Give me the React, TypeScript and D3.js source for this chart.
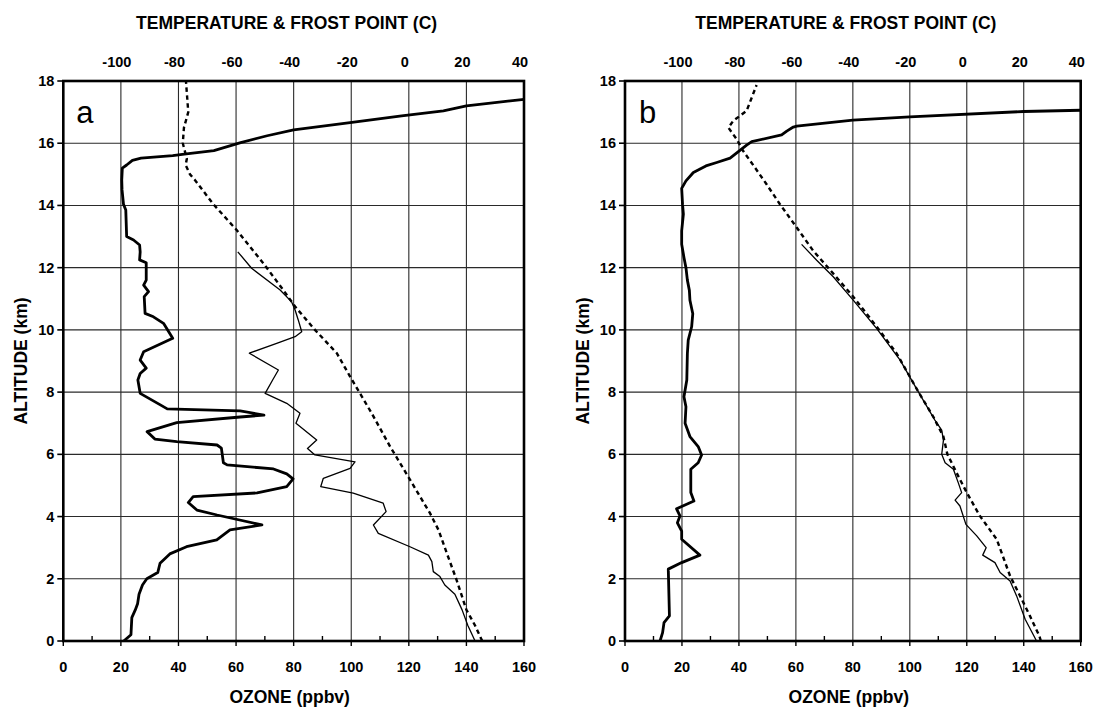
import React from "react";
import * as d3 from "d3";

// ---------- DATA (altitude km, value) ----------
const altTicks = [0, 2, 4, 6, 8, 10, 12, 14, 16, 18];
const ozoneTicks = [0, 20, 40, 60, 80, 100, 120, 140, 160];
const tempTicks = [-100, -80, -60, -40, -20, 0, 20, 40];

// Panel a
const ozoneA: [number, number][] = [
  [0, 21], [0.2, 23.5], [0.75, 23.8], [1.0, 25], [1.2, 25.8], [1.5, 26.3], [1.8, 27.5], [2.0, 29],
  [2.2, 32.8], [2.5, 33.6], [2.8, 37], [3.03, 42.8], [3.25, 53.3], [3.57, 57.9], [3.73, 69.0],
  [4.05, 53.4], [4.21, 46.4], [4.45, 43.4], [4.64, 45.1], [4.76, 67.3], [4.96, 77.6], [5.21, 79.8],
  [5.37, 77.6], [5.53, 73], [5.66, 56.9], [5.73, 55.6], [6.2, 54.9], [6.3, 53.4], [6.41, 39.4],
  [6.49, 31.8], [6.73, 29.1], [7.02, 39.4], [7.2, 61.4], [7.26, 69.7], [7.4, 61.4], [7.46, 36.1],
  [7.59, 33.7], [7.96, 26.7], [8.39, 25.9], [8.6, 26.7], [8.77, 28.8], [9.03, 26.7], [9.3, 27.9],
  [9.73, 38.0], [10.21, 34.8], [10.42, 31.3], [10.53, 28.4], [11.07, 28.1], [11.23, 29.6],
  [11.44, 27.9], [11.6, 28.8], [12.16, 28.8], [12.25, 26.5], [12.51, 26.7], [12.73, 26.5],
  [12.89, 24.4], [13.0, 22.0], [13.85, 21.7], [14.04, 20.9], [14.5, 20.4], [14.82, 20.3],
  [15.2, 20.5], [15.3, 22], [15.45, 24], [15.52, 27], [15.6, 38], [15.65, 42], [15.76, 52.3],
  [16.02, 61.6], [16.24, 70.8], [16.43, 80], [16.66, 99.6], [16.88, 117.5], [17.04, 132],
  [17.2, 140], [17.41, 160],
];
const tempA: [number, number][] = [
  [0, 25.5], [0.5, 23], [1.0, 20], [1.96, 16.6], [2.82, 13.2], [3.57, 10.3], [4.1, 7.4],
  [5.28, -0.2], [6.25, -6.5], [7.32, -12.9], [8.5, -20.4], [9.25, -25], [10.0, -32.6],
  [10.75, -39.5], [11.28, -43.6], [12.14, -50.5], [13.21, -59.8], [14.04, -67.9], [14.82, -74.3],
  [15.0, -76], [15.3, -77.5], [15.5, -77.1], [16.0, -78.5], [16.5, -78.1], [17.0, -76.6], [18.0, -77.4],
];
const frostA: [number, number][] = [
  [0, 23], [0.2, 22], [0.5, 20.5], [1.0, 18.5], [1.5, 16], [1.8, 12.5], [2.07, 10.8], [2.23, 8.5],
  [2.55, 8], [2.76, 6.8], [3.03, 0.4], [3.46, -10.6], [3.73, -12.3], [4.16, -7.9], [4.43, -8.9],
  [4.75, -19.3], [4.96, -30.6], [5.23, -29.7], [5.55, -20.4], [5.76, -18.7], [5.98, -32.6],
  [6.19, -35.2], [6.46, -32], [7.0, -39.2], [7.32, -37.8], [7.64, -42.4], [7.96, -49.9],
  [8.39, -47.3], [8.71, -45.3], [9.25, -55.4], [9.57, -45.9], [9.78, -39.5], [9.94, -37.2],
  [10.32, -38.4], [10.64, -39.5], [10.9, -40.7], [11.28, -44.7], [11.98, -54.6], [12.51, -59.4],
];

// Panel b
const ozoneB: [number, number][] = [
  [0, 12.3], [0.27, 13.2], [0.59, 13.7], [0.81, 15.6], [2.31, 15.2], [2.52, 19.9], [2.76, 26.3],
  [3.27, 19.9], [3.53, 19.9], [3.8, 18.4], [4.02, 19.3], [4.25, 18.1], [4.5, 24.2], [4.77, 23.1],
  [5.52, 23.1], [5.73, 25.7], [5.98, 26.9], [6.25, 25.7], [6.57, 22.8], [7.0, 21.1], [7.53, 21.4],
  [7.85, 20.7], [8.39, 21.7], [9.24, 21.9], [9.67, 22.2], [10.1, 23.4], [10.52, 23.8], [10.95, 22.8],
  [11.27, 22.6], [11.6, 21.9], [12.0, 21.4], [12.33, 20.7], [12.75, 19.9], [13.18, 19.9],
  [13.72, 20.5], [14.04, 20.2], [14.55, 19.9], [14.79, 21.4], [15.06, 24], [15.27, 28.4],
  [15.38, 32.2], [15.52, 36.9], [15.94, 42.7], [16.05, 44.5], [16.27, 55], [16.39, 56.8],
  [16.52, 59.1], [16.55, 60.3], [16.74, 80], [16.85, 100], [17.02, 140], [17.06, 160],
];
const tempB: [number, number][] = [
  [0, 26], [0.16, 25.5], [0.8, 22.2], [1.34, 19.3], [2.09, 15.2], [3.27, 10.5], [4.02, 4.6],
  [4.77, 0], [5.3, -3], [6.0, -6.8], [6.57, -8.2], [7.2, -11.7], [8.01, -17], [9.24, -24.6],
  [10.1, -31.6], [11.06, -39.8], [11.8, -46.8], [12.24, -51], [12.54, -53.9], [13.29, -59.7],
  [14.04, -65.6], [14.68, -70.3], [15.22, -74.4], [15.75, -78.5], [16.13, -80.8], [16.5, -83.7],
  [16.72, -82], [17.04, -77.3], [17.87, -73.8],
];
const frostB: [number, number][] = [
  [0, 24.5], [0.7, 20.5], [1.45, 17.5], [1.93, 15.2], [2.2, 11.7], [2.52, 9.9], [2.76, 5.6],
  [3.0, 6.8], [3.38, 3.5], [3.75, -0.3], [4.34, -2.4], [4.53, -4.1], [4.77, -1.8], [5.09, -3],
  [5.52, -4.7], [5.73, -7.6], [6.0, -8.8], [6.45, -8.2], [6.78, -8.8], [7.1, -11.2], [8.01, -17],
  [9.03, -23.4], [10.04, -31.6], [10.95, -39.8], [11.7, -46.8], [12.24, -52.7], [12.75, -58],
];

const FONT = "'Liberation Sans', Arial, Helvetica, sans-serif";

type PanelProps = {
  x0: number;
  x1: number;
  label: string;
  labelDx: number;
  ozone: [number, number][];
  temp: [number, number][];
  frost: [number, number][];
};

const TOP = 81;
const BOTTOM = 641;

function Panel({ x0, x1, label, labelDx, ozone, temp, frost }: PanelProps) {
  const y = d3.scaleLinear().domain([0, 18]).range([BOTTOM, TOP]);
  const xo = d3.scaleLinear().domain([0, 160]).range([x0, x1]);
  const xt = d3.scaleLinear().domain([-120, 40]).range([x0, x1]);

  const ozLine = d3.line<[number, number]>().x((d) => xo(d[1])).y((d) => y(d[0]));
  const tLine = d3.line<[number, number]>().x((d) => xt(d[1])).y((d) => y(d[0]));

  const cx = (x0 + x1) / 2;
  const minor = d3.range(10, 160, 20);

  return (
    <g fontFamily={FONT}>
      {/* grid */}
      {ozoneTicks.slice(1, -1).map((v) => (
        <line key={"gv" + v} x1={xo(v)} x2={xo(v)} y1={TOP} y2={BOTTOM} stroke="#2a2a2a" strokeWidth={1.1} />
      ))}
      {altTicks.slice(1, -1).map((v) => (
        <line key={"gh" + v} x1={x0} x2={x1} y1={y(v)} y2={y(v)} stroke="#2a2a2a" strokeWidth={1.1} />
      ))}
      {/* frame */}
      <rect x={x0} y={TOP} width={x1 - x0} height={BOTTOM - TOP} fill="none" stroke="#000" strokeWidth={2.6} />
      {/* y ticks */}
      {altTicks.map((v) => (
        <g key={"yt" + v}>
          <line x1={x0 - 6} x2={x0} y1={y(v)} y2={y(v)} stroke="#000" strokeWidth={1.6} />
          <text x={x0 - 9} y={y(v) + 5} textAnchor="end" fontSize={14.5} fontWeight="bold">{v}</text>
        </g>
      ))}
      {/* bottom ticks */}
      {ozoneTicks.map((v) => (
        <g key={"xb" + v}>
          <line x1={xo(v)} x2={xo(v)} y1={BOTTOM} y2={BOTTOM + 5} stroke="#000" strokeWidth={1.4} />
          <text x={xo(v)} y={672} textAnchor="middle" fontSize={14.5} fontWeight="bold">{v}</text>
        </g>
      ))}
      {minor.map((v) => (
        <line key={"mn" + v} x1={xo(v)} x2={xo(v)} y1={BOTTOM} y2={BOTTOM - 5} stroke="#000" strokeWidth={1.4} />
      ))}
      {/* top labels */}
      {tempTicks.map((v) => (
        <text key={"tt" + v} x={xt(v) - 4} y={67} textAnchor="middle" fontSize={14.5} fontWeight="bold">{v}</text>
      ))}
      {/* titles */}
      <text x={cx - 7} y={29} textAnchor="middle" fontSize={17.5} fontWeight="bold">TEMPERATURE &amp; FROST POINT (C)</text>
      <text x={cx - 4} y={703} textAnchor="middle" fontSize={17.5} fontWeight="bold">OZONE (ppbv)</text>
      <text transform={`translate(${x0 - 36},${(TOP + BOTTOM) / 2}) rotate(-90)`} textAnchor="middle" fontSize={17.5} fontWeight="bold">ALTITUDE (km)</text>
      <text x={x0 + labelDx} y={123} fontSize={31}>{label}</text>
      {/* data */}
      <path d={tLine(frost) ?? ""} fill="none" stroke="#000" strokeWidth={1.3} strokeLinejoin="round" />
      <path d={tLine(temp) ?? ""} fill="none" stroke="#000" strokeWidth={2.4} strokeDasharray="4.5 3.5" />
      <path d={ozLine(ozone) ?? ""} fill="none" stroke="#000" strokeWidth={2.8} strokeLinejoin="round" />
    </g>
  );
}

export default function App() {
  return (
    <svg
      width={1095}
      height={708}
      style={{ position: "absolute", left: 0, top: 0, background: "#fff" }}
    >
      <rect width={1095} height={708} fill="#fff" />
      <Panel x0={63.3} x1={524} label="a" labelDx={13} ozone={ozoneA} temp={tempA} frost={frostA} />
      <Panel x0={625} x1={1080.7} label="b" labelDx={14} ozone={ozoneB} temp={tempB} frost={frostB} />
    </svg>
  );
}
